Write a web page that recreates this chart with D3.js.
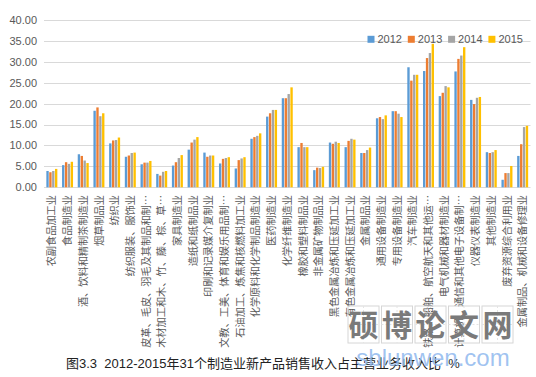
<!DOCTYPE html>
<html><head><meta charset="utf-8">
<script src="https://cdn.jsdelivr.net/npm/d3@7"></script>
<style>body{margin:0;background:#fff}svg{display:block}</style>
</head><body><svg id="c" width="536" height="377"></svg>
<script>
const categories = ["农副食品加工业","食品制造业","酒、饮料和精制茶制造业","烟草制品业","纺织业","纺织服装、服饰业","皮革、毛皮、羽毛及其制品和制…","木材加工和木、竹、藤、棕、草…","家具制造业","造纸和纸制品业","印刷和记录媒介复制业","文教、工美、体育和娱乐用品制…","石油加工、炼焦和核燃料加工业","化学原料和化学制品制造业","医药制造业","化学纤维制造业","橡胶和塑料制品业","非金属矿物制品业","黑色金属冶炼和压延加工业","有色金属冶炼和压延加工业","金属制品业","通用设备制造业","专用设备制造业","汽车制造业","铁路、船舶、航空航天和其他运…","电气机械和器材制造业","计算机、通信和其他电子设备制…","仪器仪表制造业","其他制造业","废弃资源综合利用业","金属制品、机械和设备修理业"];
const seriesNames = ["2012","2013","2014","2015"];
const v2012 = [3.9,5.3,7.9,18.3,10.5,7.3,5.5,3.2,5.2,9.0,8.3,5.7,4.5,11.6,16.9,21.3,9.6,4.1,10.7,9.6,8.2,16.5,18.2,28.7,27.8,21.8,27.7,20.9,8.4,1.8,7.5];
const v2013 = [3.6,6.0,7.5,19.1,11.2,7.6,5.9,2.8,6.0,10.7,7.3,6.8,6.5,12.0,17.7,21.3,10.6,4.7,10.4,11.1,8.2,16.8,18.2,25.5,30.9,22.6,30.7,19.9,8.2,3.4,10.3];
const v2014 = [3.9,5.6,6.4,17.0,11.3,8.2,5.9,3.7,7.0,11.4,7.6,7.0,6.9,12.3,18.5,22.3,9.6,4.6,10.9,11.6,8.9,16.3,17.6,26.9,32.1,24.2,31.5,21.4,8.4,3.4,14.4];
const v2015 = [4.4,6.1,5.8,17.7,11.9,8.3,6.3,3.9,7.7,12.0,7.6,7.2,7.2,12.9,18.5,23.9,9.6,4.9,10.6,11.4,9.5,17.2,16.8,26.9,34.3,23.9,33.5,21.6,8.9,5.1,14.7];
const yTicks = [0,5,10,15,20,25,30,35,40];
const colors = ["#5B9BD5","#ED7D31","#A5A5A5","#FFC000"];
const caption = "图3.3  2012-2015年31个制造业新产品销售收入占主营业务收入比  %";
const wmChars = ["硕","博","论","文","网"];
const wmUrl = "sblunwen.com";

const seriesVals = [v2012,v2013,v2014,v2015];
const svg = d3.select("#c");
svg.append("rect").attr("width",536).attr("height",377).attr("fill","#fff");

const y = d3.scaleLinear().domain([0,40]).range([187.3,20]);
const x = d3.scaleBand().domain(categories).range([44,530.5]).paddingInner(0.3).paddingOuter(0.15);
const xs = d3.scaleBand().domain(seriesNames).range([0,x.bandwidth()]).paddingInner(0.18);

svg.append("g").selectAll("line").data(yTicks).join("line")
  .attr("x1",44).attr("x2",530.5)
  .attr("y1",d=>Math.round(y(d))+0.5).attr("y2",d=>Math.round(y(d))+0.5)
  .attr("stroke","#D9D9D9").attr("stroke-width",1);

svg.append("g").selectAll("text").data(yTicks).join("text")
  .attr("x",37).attr("y",d=>y(d)).attr("dy","0.35em")
  .attr("text-anchor","end")
  .attr("font-family","'Liberation Sans', Arial, sans-serif")
  .attr("font-size",11).attr("fill","#595959")
  .text(d=>d3.format(".2f")(d));

const groups = svg.append("g").selectAll("g").data(categories).join("g")
  .attr("transform",d=>`translate(${x(d)},0)`);
groups.selectAll("rect").data((d,i)=>seriesNames.map((s,j)=>({s,j,v:seriesVals[j][i]}))).join("rect")
  .attr("x",d=>xs(d.s)).attr("width",xs.bandwidth())
  .attr("y",d=>y(d.v)).attr("height",d=>y(0)-y(d.v))
  .attr("fill",d=>colors[d.j]);

svg.append("g").selectAll("text").data(categories).join("text")
  .attr("transform",d=>`translate(${x(d)+x.bandwidth()/2},195) rotate(-90)`)
  .attr("dy","0.35em").attr("text-anchor","end")
  .attr("font-family","'Noto Sans CJK SC', sans-serif")
  .attr("font-size",10.2).attr("fill","#595959")
  .text(d=>d);

const lg = svg.append("g").selectAll("g").data(seriesNames).join("g")
  .attr("transform",(d,i)=>`translate(${367.5+i*40.3},39.3)`);
lg.append("rect").attr("x",0).attr("y",-3.5).attr("width",7).attr("height",7).attr("fill",(d,i)=>colors[i]);
lg.append("text").attr("x",10).attr("dy","0.36em")
  .attr("font-family","'Liberation Sans', Arial, sans-serif")
  .attr("font-size",11).attr("fill","#595959").text(d=>d);

const wm = svg.append("g").selectAll("g").data(wmChars).join("g")
  .attr("transform",(d,i)=>`translate(${348+i*33.5},306)`);
wm.append("rect").attr("width",31).attr("height",37).attr("fill","none").attr("stroke","#d6d6d6");
wm.append("line").attr("x1",15.5).attr("x2",15.5).attr("y1",0).attr("y2",37).attr("stroke","#e4e4e4").attr("stroke-dasharray","2,2");
wm.append("line").attr("x1",0).attr("x2",31).attr("y1",18.5).attr("y2",18.5).attr("stroke","#e4e4e4").attr("stroke-dasharray","2,2");

svg.append("text").attr("x",66).attr("y",368)
  .attr("font-family","'Liberation Sans', 'Noto Sans CJK SC', sans-serif")
  .attr("font-size",13).attr("fill","#222")
  .style("white-space","pre")
  .text(caption);

wm.append("text").attr("x",15.5).attr("y",19).attr("dy","0.36em").attr("text-anchor","middle")
  .attr("font-family","'Noto Sans CJK SC', sans-serif").attr("font-weight",700)
  .attr("font-size",30).attr("fill","#7a7a7a").text(d=>d);

svg.append("text").attr("x",433).attr("y",366).attr("text-anchor","middle")
  .attr("font-family","'Liberation Sans', Arial, sans-serif")
  .attr("font-size",24).attr("fill","#8fb8ee").attr("fill-opacity",0.85)
  .text(wmUrl);
</script></body></html>
